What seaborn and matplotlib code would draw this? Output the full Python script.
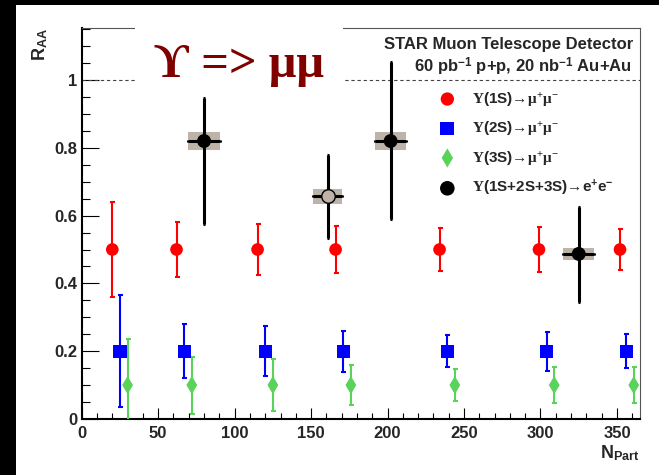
import numpy as np
import pandas as pd
import matplotlib
matplotlib.use("Agg")
import matplotlib.pyplot as plt
from matplotlib.patches import Rectangle
from matplotlib.ticker import MultipleLocator, FixedLocator, FixedFormatter
import seaborn as sns

# ---------------- data ----------------
npart_1s = [20, 62, 115, 166, 234, 299, 352]
raa_1s = [0.50, 0.50, 0.50, 0.50, 0.50, 0.50, 0.50]
err_1s = [0.14, 0.08, 0.075, 0.07, 0.063, 0.067, 0.06]

npart_2s = [25, 67, 120, 171, 239, 304, 356]
raa_2s = [0.20, 0.20, 0.20, 0.20, 0.20, 0.20, 0.20]
err_2s = [0.165, 0.08, 0.073, 0.06, 0.048, 0.057, 0.05]

npart_3s = [30, 72, 125, 176, 244, 309, 361]
raa_3s = [0.10, 0.10, 0.10, 0.10, 0.10, 0.10, 0.10]
err_3s = [0.135, 0.084, 0.077, 0.06, 0.047, 0.054, 0.053]

npart_ee = [80, 161, 202, 325]
raa_ee = [0.82, 0.657, 0.82, 0.487]
err_ee_lo = [0.246, 0.124, 0.231, 0.142]
err_ee_hi = [0.128, 0.122, 0.232, 0.138]
xerr_ee = [10.5, 9.5, 10.0, 10.0]
sys_ee = [0.027, 0.022, 0.026, 0.017]
open_ee = [False, True, False, False]

labels = [r"$\Upsilon$(1S)→$\mu^{+}\mu^{-}$",
          r"$\Upsilon$(2S)→$\mu^{+}\mu^{-}$",
          r"$\Upsilon$(3S)→$\mu^{+}\mu^{-}$",
          r"$\Upsilon$(1S+2S+3S)→e$^{\mathbf{+}}$e$^{\mathbf{-}}$"]

x_ticks = [0, 50, 100, 150, 200, 250, 300, 350]
x_ticklabels = ["0", "50", "100", "150", "200", "250", "300", "350"]
y_ticks = [0, 0.2, 0.4, 0.6, 0.8, 1.0]
y_ticklabels = ["0", "0.2", "0.4", "0.6", "0.8", "1"]

# ---------------- style ----------------
sns.set_style("ticks")
plt.rcParams["font.family"] = ["Liberation Sans", "DejaVu Sans"]
plt.rcParams["font.weight"] = "bold"
plt.rcParams["mathtext.fontset"] = "custom"
plt.rcParams["mathtext.rm"] = "Liberation Serif"
plt.rcParams["mathtext.it"] = "Liberation Serif"
plt.rcParams["mathtext.bf"] = "Liberation Sans:bold"
plt.rcParams["mathtext.sf"] = "Liberation Sans"

RED, BLUE, GREEN, GRAY = "#ff0000", "#0000ff", "#5ad35a", "#bdb3a9"

fig = plt.figure(figsize=(6.59, 4.75), dpi=100)
fig.patch.set_facecolor("white")
ax = fig.add_axes([0.124, 0.1179, 0.847, 0.8225])
ax.set_facecolor("white")

# black canvas bands (top & left)
fig.add_artist(Rectangle((0, 0.9895), 1, 0.0105, transform=fig.transFigure,
                         facecolor="black", edgecolor="none", zorder=0))
fig.add_artist(Rectangle((0, 0), 0.0243, 1, transform=fig.transFigure,
                         facecolor="black", edgecolor="none", zorder=0))

# reference line at 1
ax.axhline(1.0, ls=(0, (3, 2.5)), color="#444444", lw=0.8, zorder=1)

# systematic boxes for e+e-
ee = pd.DataFrame({"x": npart_ee, "y": raa_ee, "lo": err_ee_lo, "hi": err_ee_hi,
                   "xe": xerr_ee, "sys": sys_ee, "open": open_ee})
ax.bar(ee["x"], 2 * ee["sys"], bottom=ee["y"] - ee["sys"], width=2 * ee["xe"],
       color=GRAY, edgecolor="none", zorder=2)

# error bars
ax.errorbar(npart_1s, raa_1s, yerr=err_1s, fmt="none", ecolor=RED,
            elinewidth=1.5, capsize=1.8, capthick=1.5, zorder=3)
ax.errorbar(npart_2s, raa_2s, yerr=err_2s, fmt="none", ecolor=BLUE,
            elinewidth=1.5, capsize=1.8, capthick=1.5, zorder=3)
ax.errorbar(npart_3s, raa_3s, yerr=err_3s, fmt="none", ecolor=GREEN,
            elinewidth=1.5, capsize=1.8, capthick=1.5, zorder=3)
ax.errorbar(ee["x"], ee["y"], yerr=[ee["lo"], ee["hi"]], xerr=ee["xe"], fmt="none",
            ecolor="black", elinewidth=2.2, capsize=1.0, capthick=2.2, zorder=3)

# markers
sns.scatterplot(x=npart_1s, y=raa_1s, marker="o", s=83, color=RED, edgecolor="none",
                label=labels[0], ax=ax, zorder=5)
sns.scatterplot(x=npart_2s, y=raa_2s, marker="s", s=90, color=BLUE, edgecolor="none",
                label=labels[1], ax=ax, zorder=5)
sns.scatterplot(x=npart_3s, y=raa_3s, marker="d", s=85, color=GREEN, edgecolor="none",
                label=labels[2], ax=ax, zorder=5)
filled = ee[~ee["open"]]
hollow = ee[ee["open"]]
sns.scatterplot(data=filled, x="x", y="y", marker="o", s=100, color="black",
                edgecolor="none", label=labels[3], ax=ax, zorder=5)
sns.scatterplot(data=hollow, x="x", y="y", marker="o", s=95, color=GRAY,
                edgecolor="black", linewidth=1.0, ax=ax, zorder=5, legend=False)

# axes
ax.set_xlim(0, 365)
ax.set_ylim(0, 1.1525)
ax.xaxis.set_major_locator(FixedLocator(x_ticks))
ax.xaxis.set_major_formatter(FixedFormatter(x_ticklabels))
ax.yaxis.set_major_locator(FixedLocator(y_ticks))
ax.yaxis.set_major_formatter(FixedFormatter(y_ticklabels))
ax.xaxis.set_minor_locator(MultipleLocator(10))
ax.yaxis.set_minor_locator(MultipleLocator(0.05))
ax.tick_params(axis="both", which="both", direction="in", top=False, right=False,
               width=0.8, color="black", labelsize=12)
ax.tick_params(axis="y", which="major", length=12, pad=3)
ax.tick_params(axis="y", which="minor", length=6)
ax.tick_params(axis="x", which="major", length=8, pad=5)
ax.tick_params(axis="x", which="minor", length=4)
for lab in ax.get_xticklabels() + ax.get_yticklabels():
    lab.set_fontweight("bold")

for side in ["left", "bottom"]:
    ax.spines[side].set_linewidth(1.5)
    ax.spines[side].set_color("black")
for side in ["top", "right"]:
    ax.spines[side].set_linewidth(0.8)
    ax.spines[side].set_color("#555555")

ax.set_xlabel(r"N$_{\mathbf{Part}}$", fontsize=13, fontweight="bold", loc="right", labelpad=2)
ax.set_ylabel(r"R$_{\mathbf{AA}}$", fontsize=13, fontweight="bold", loc="top", labelpad=3)

# header text
ax.text(0.989, 0.946, "STAR Muon Telescope Detector", transform=ax.transAxes,
        ha="right", va="baseline", fontsize=12, fontweight="bold")
ax.text(0.985, 0.886, r"60 pb$^{\mathbf{-1}}$ p+p, 20 nb$^{\mathbf{-1}}$ Au+Au",
        transform=ax.transAxes, ha="right", va="baseline", fontsize=12, fontweight="bold")

# legend
leg = ax.legend(loc="upper left", bbox_to_anchor=(0.6386, 0.842), frameon=False,
                borderpad=0, borderaxespad=0, handlelength=1.2, handletextpad=1.04,
                labelspacing=0.75, markerscale=1.05,
                prop={"family": ["Liberation Sans", "DejaVu Sans"], "weight": "bold",
                      "size": 11})

# title box covering frame & dashed line
fig.add_artist(Rectangle((0.2049, 0.8105), 0.3156, 0.139, transform=fig.transFigure,
                         facecolor="white", edgecolor="none", zorder=10))
fig.text(0.363, 0.838, "ϒ => μμ", family=["Liberation Serif", "DejaVu Serif"],
         fontweight="bold", fontsize=35, color="#800000", ha="center",
         va="baseline", zorder=11)

fig.savefig("out.png", dpi=100, facecolor="white")
